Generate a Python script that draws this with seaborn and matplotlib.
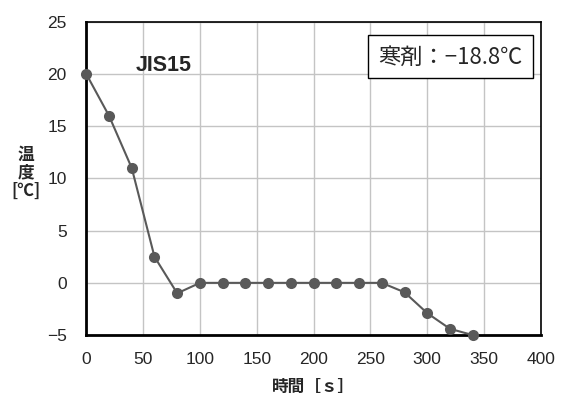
import matplotlib
matplotlib.use("Agg")
import matplotlib.pyplot as plt
import pandas as pd
import seaborn as sns

# données
temps = [0, 20, 40, 60, 80, 100, 120, 140, 160, 180, 200, 220, 240, 260, 280, 300, 320, 340]
temperature = [20, 16, 11, 2.5, -1, 0, 0, 0, 0, 0, 0, 0, 0, 0, -0.9, -2.9, -4.4, -5]
x_ticks = [0, 50, 100, 150, 200, 250, 300, 350, 400]
y_ticks = [-5, 0, 5, 10, 15, 20, 25]

df = pd.DataFrame({"temps": temps, "temperature": temperature})

sns.set_style("white")
plt.rcParams['font.family'] = ['Liberation Sans', 'Noto Sans CJK JP', 'DejaVu Sans']

fig, ax = plt.subplots(figsize=(5.64, 3.97), dpi=100)
fig.subplots_adjust(left=0.153, right=0.959, top=0.945, bottom=0.156)

ax.grid(True, color="#c4c4c4", linewidth=1.0)
ax.set_axisbelow(True)
sns.lineplot(data=df, x="temps", y="temperature", ax=ax, color="#595959",
             linewidth=1.5, marker="o", markersize=8, markeredgewidth=0,
             markerfacecolor="#595959", clip_on=False, zorder=3)

ax.set_xlim(0, 400)
ax.set_ylim(-5, 25)
ax.set_xticks(x_ticks)
ax.set_yticks(y_ticks)
ax.set_yticklabels(["−5" if v == -5 else str(v) for v in y_ticks])
ax.tick_params(axis="both", length=0, labelsize=12.5)
ax.tick_params(axis="x", pad=12)
ax.tick_params(axis="y", pad=14)

for s in ["left", "bottom"]:
    ax.spines[s].set_linewidth(2.0)
for s in ["top", "right"]:
    ax.spines[s].set_linewidth(1.2)
for s in ax.spines.values():
    s.set_color("black")

ax.set_xlabel("時間［ｓ］", fontsize=12, fontweight="bold", labelpad=8,
              family=['Noto Sans CJK JP'])
ax.set_ylabel("")
fig.text(0.046, 0.565, "温\n度\n[℃]", fontsize=12, fontweight="bold",
         ha="center", va="center", linespacing=1.0,
         family=['Noto Sans CJK JP'])

ax.text(0.108, 0.86, "JIS15", transform=ax.transAxes, fontsize=15.5,
        fontweight="bold", ha="left", va="center")
ax.text(0.96, 0.888, "寒剤：−18.8℃", transform=ax.transAxes, fontsize=16,
        ha="right", va="center",
        family=['Noto Sans CJK JP'],
        bbox=dict(boxstyle="square,pad=0.45", facecolor="white",
                  edgecolor="black", linewidth=1.0))

fig.savefig("out.png", dpi=100)
